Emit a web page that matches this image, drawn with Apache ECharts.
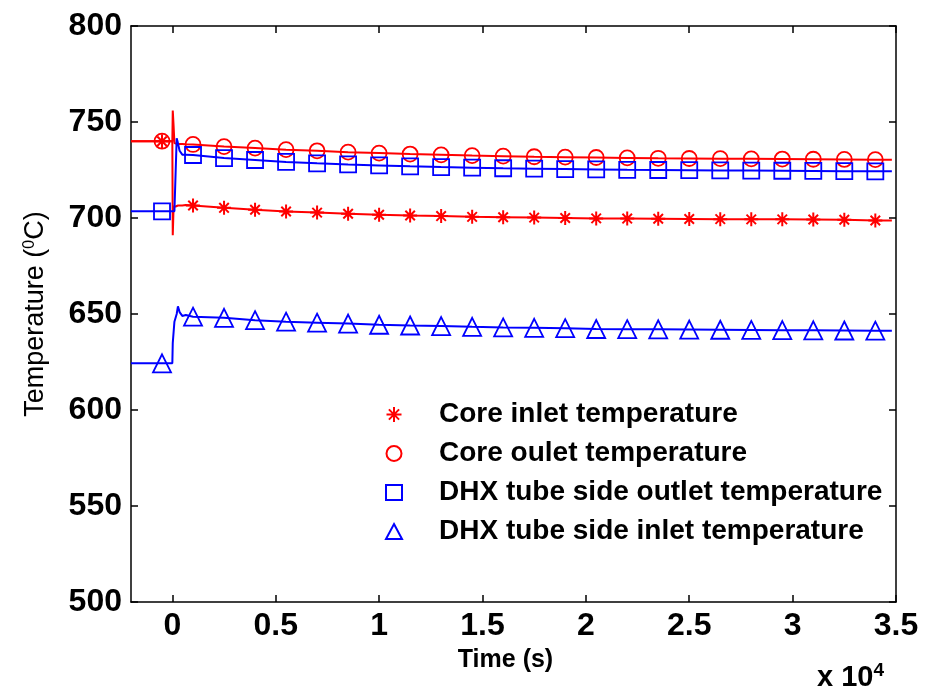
<!DOCTYPE html>
<html>
<head>
<meta charset="utf-8">
<script src="https://cdn.jsdelivr.net/npm/echarts@6/dist/echarts.min.js"></script>
<style>html,body{margin:0;padding:0;background:#fff}#c{width:935px;height:696px}</style>
</head>
<body>
<div id="c"></div>
<script>
// ---- data (time in seconds, temperature in degC) ----
var xTicks = [0, 5000, 10000, 15000, 20000, 25000, 30000, 35000];
var markerT = [-500, 1000, 2500, 4000, 5500, 7000, 8500, 10000, 11500, 13000, 14500, 16000,
  17500, 19000, 20500, 22000, 23500, 25000, 26500, 28000, 29500, 31000, 32500, 34000];
var coreInlet = [740, 706.5, 705.3, 704.3, 703.4, 702.8, 702.2, 701.7, 701.3, 701.0, 700.6, 700.4,
  700.2, 700.0, 699.8, 699.7, 699.6, 699.5, 699.4, 699.3, 699.3, 699.2, 699.1, 698.7];
var coreOutlet = [740, 738.3, 737.2, 736.4, 735.6, 735.0, 734.3, 733.8, 733.3, 732.9, 732.5, 732.2,
  731.9, 731.7, 731.5, 731.3, 731.1, 731.0, 730.9, 730.8, 730.7, 730.6, 730.5, 730.4];
var dhxOutlet = [703.5, 732.8, 731.2, 730.2, 729.2, 728.5, 727.9, 727.4, 726.9, 726.5, 726.2, 725.9,
  725.7, 725.5, 725.3, 725.1, 725.0, 724.9, 724.8, 724.7, 724.6, 724.5, 724.4, 724.3];
var dhxInlet = [624.3, 648.6, 648.0, 646.8, 646.0, 645.5, 645.0, 644.4, 644.0, 643.7, 643.3, 643.0,
  642.8, 642.6, 642.2, 642.1, 642.0, 641.9, 641.8, 641.7, 641.6, 641.5, 641.4, 641.3];
// transient part of the continuous curves (before the first post-transient marker)
var transT = [-2000, -1, 20, 60, 100, 160, 210, 270, 350, 480, 650];
var coreInletTrans = [740, 740, 691, 706, 706.5, 706, 705.8, 706.5, 707, 706.5, 706.8];
var coreOutletTrans = [740, 740, 756, 748, 739, 738.6, 738.6, 738.6, 738.5, 738.5, 738.4];
var dhxOutletTrans = [703.5, 703.5, 703.5, 703.5, 703.5, 703.5, 741.5, 739, 735, 733, 733];
var dhxInletTrans = [624.3, 624.3, 635, 635, 646, 647, 650, 654, 651, 649, 649.5];
var lineEndT = 34800;

var RED = '#ff0000', BLUE = '#0000ff';
var FONT = 'Liberation Sans, Arial, sans-serif';

function lineData(trans, vals) {
  var d = [];
  for (var i = 0; i < transT.length; i++) d.push([transT[i], trans[i]]);
  for (var j = 1; j < markerT.length; j++) d.push([markerT[j], vals[j]]);
  d.push([lineEndT, vals[vals.length - 1]]);
  return d;
}
function markerData(vals) {
  return markerT.map(function (t, i) { return [t, vals[i]]; });
}
var asterisk = 'path://M5,0L5,10M0,5L10,5M1.6,1.6L8.4,8.4M1.6,8.4L8.4,1.6';

function lineSeries(name, trans, vals, color) {
  return { name: name, type: 'line', data: lineData(trans, vals), showSymbol: false, symbol: 'none',
    lineStyle: { color: color, width: 2 }, itemStyle: { color: color }, z: 2, silent: true, animation: false };
}
function markSeries(name, vals, color, symbol, size, bw) {
  return { name: name, type: 'scatter', data: markerData(vals), symbol: symbol, symbolSize: size,
    itemStyle: { color: 'rgba(255,255,255,0)', borderColor: color, borderWidth: bw, opacity: 1 },
    z: 3, animation: false };
}

var tickLabelStyle = { fontFamily: FONT, fontWeight: 'bold', fontSize: 32, color: '#000' };
var axisLineStyle = { show: true, onZero: false, lineStyle: { color: '#000', width: 1.5 } };

var option = {
  backgroundColor: '#fff',
  animation: false,
  grid: { left: 131, right: 39, top: 26, bottom: 94, containLabel: false },
  xAxis: [{
    type: 'value', min: -2000, max: 35000, position: 'bottom',
    axisLine: axisLineStyle, splitLine: { show: false },
    axisTick: { show: true, inside: true, length: 7, customValues: xTicks, lineStyle: { color: '#000', width: 1.5 } },
    axisLabel: { show: true, customValues: xTicks, margin: 8, formatter: function (v) { return String(v / 10000); }, textStyle: tickLabelStyle },
    name: 'Time (s)', nameLocation: 'middle', nameGap: 46,
    nameTextStyle: { fontFamily: FONT, fontWeight: 'bold', fontSize: 25, color: '#000', padding: [0, 16, 0, 0] }
  }, {
    type: 'value', min: -2000, max: 35000, position: 'top',
    axisLine: axisLineStyle, splitLine: { show: false },
    axisTick: { show: true, inside: true, length: 7, customValues: xTicks, lineStyle: { color: '#000', width: 1.5 } },
    axisLabel: { show: false }
  }],
  yAxis: [{
    type: 'value', min: 500, max: 800, interval: 50, position: 'left',
    axisLine: axisLineStyle, splitLine: { show: false },
    axisTick: { show: true, inside: true, length: 7, lineStyle: { color: '#000', width: 1.5 } },
    axisLabel: { show: true, margin: 9, textStyle: tickLabelStyle },
    name: 'Temperature ({sup|0}C)', nameLocation: 'middle', nameGap: 82, nameRotate: 90,
    nameTextStyle: { fontFamily: FONT, fontSize: 27, color: '#000',
      rich: { sup: { fontFamily: FONT, fontSize: 16, color: '#000', verticalAlign: 'top', padding: [0, 0, 10, 0] } } }
  }, {
    type: 'value', min: 500, max: 800, interval: 50, position: 'right',
    axisLine: axisLineStyle, splitLine: { show: false },
    axisTick: { show: true, inside: true, length: 7, lineStyle: { color: '#000', width: 1.5 } },
    axisLabel: { show: false }
  }],
  legend: {
    orient: 'vertical', left: 380, top: 394, itemWidth: 16, itemHeight: 15, itemGap: 8,
    data: ['Core inlet temperature', 'Core oulet temperature', 'DHX tube side outlet temperature', 'DHX tube side inlet temperature'],
    textStyle: { fontFamily: FONT, fontWeight: 'bold', fontSize: 28, lineHeight: 31, color: '#000', padding: [0, 0, 0, 32] },
    selectedMode: false
  },
  graphic: [{
    type: 'text', left: 817, top: 661,
    style: { text: 'x 10{sup|4}', fontFamily: FONT, fontWeight: 'bold', fontSize: 29, fill: '#000',
      rich: { sup: { fontFamily: FONT, fontWeight: 'bold', fontSize: 19, fill: '#000', verticalAlign: 'top', padding: [0, 0, 14, 0] } } }
  }],
  series: [
    lineSeries('ci_line', coreInletTrans, coreInlet, RED),
    lineSeries('co_line', coreOutletTrans, coreOutlet, RED),
    lineSeries('do_line', dhxOutletTrans, dhxOutlet, BLUE),
    lineSeries('di_line', dhxInletTrans, dhxInlet, BLUE),
    markSeries('Core inlet temperature', coreInlet, RED, asterisk, 14, 2),
    markSeries('Core oulet temperature', coreOutlet, RED, 'circle', 15, 1.8),
    markSeries('DHX tube side outlet temperature', dhxOutlet, BLUE, 'rect', 16, 1.8),
    markSeries('DHX tube side inlet temperature', dhxInlet, BLUE, 'triangle', 18, 1.8)
  ]
};
var chart = echarts.init(document.getElementById('c'), null, { renderer: 'canvas' });
chart.setOption(option);
</script>
</body>
</html>
